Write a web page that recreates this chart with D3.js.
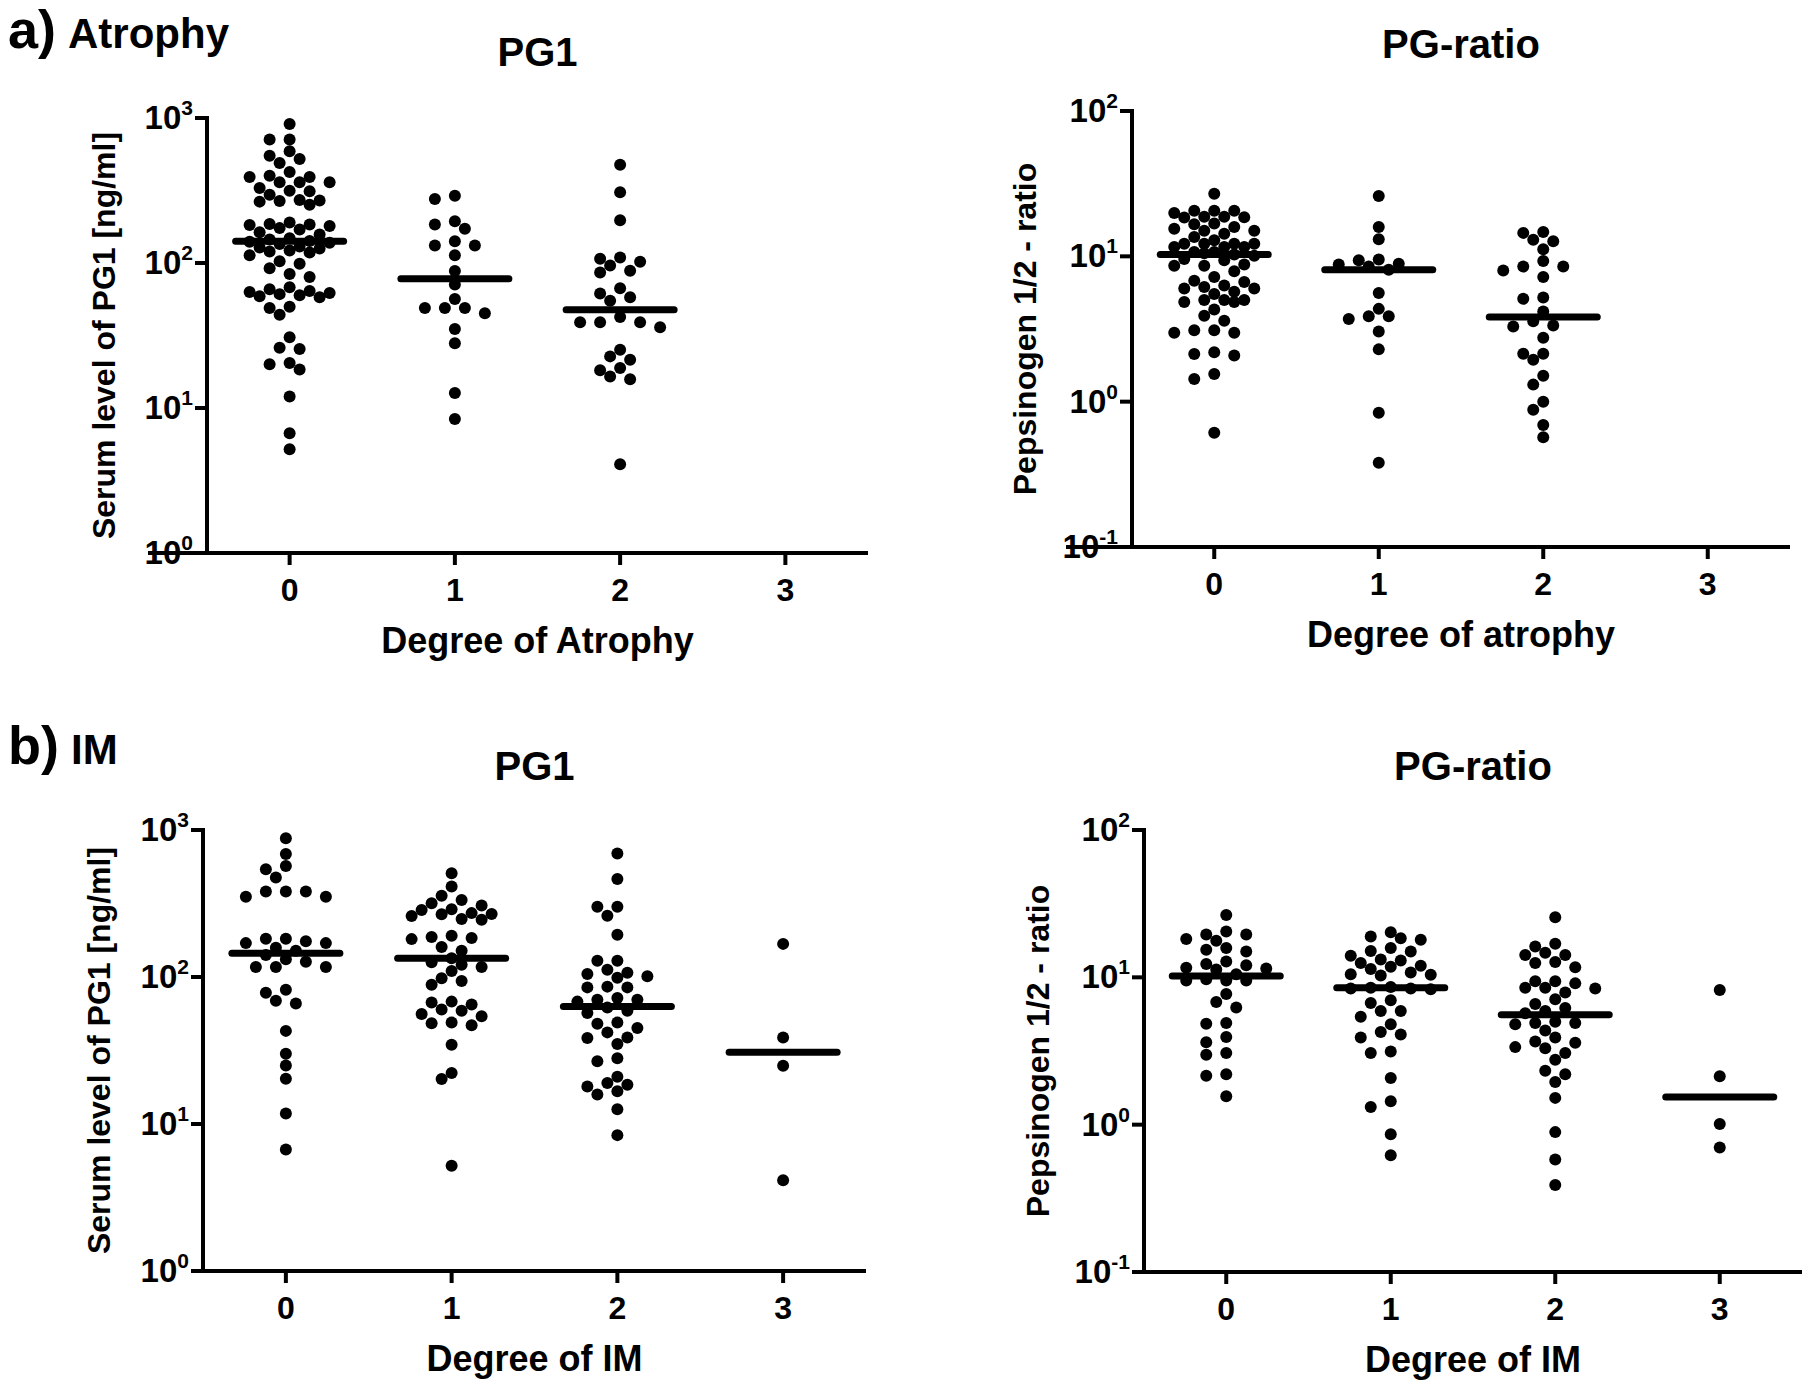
<!DOCTYPE html>
<html><head><meta charset="utf-8">
<script src="https://cdn.jsdelivr.net/npm/d3@7"></script>
<style>
body{margin:0;background:#fff}
svg{display:block}
text{font-family:"Liberation Sans",Arial,sans-serif;font-weight:bold;fill:#000}
</style>
</head><body>
<svg id="chart" width="1818" height="1384"></svg>
<script>
// ---------------- DATA ----------------
const categories = ["0", "1", "2", "3"];
const pg1TickExponents = [0, 1, 2, 3];
const ratioTickExponents = [-1, 0, 1, 2];

// a) Atrophy – PG1 [ng/ml]
const pg1Atrophy0 = [910, 710, 710, 589, 550, 522, 490, 425, 400, 392, 392, 361, 361, 361, 329, 315, 312, 296, 272, 268, 270, 265, 252, 190, 186, 184, 183, 180, 174, 170, 163, 157, 148, 145, 142, 140, 138, 135, 130, 128, 126, 122, 120, 118, 113, 103, 99, 92, 84, 80, 68, 66, 64, 63, 62, 61, 60, 59, 58, 50, 49, 44, 30.7, 26, 25.5, 20.4, 20, 18.4, 12, 6.7, 5.2];
const pg1Atrophy1 = [291, 276, 194, 184, 172, 141, 132, 132, 113, 88, 71, 56.5, 49, 49, 49, 45, 35, 28, 12.7, 8.4];
const pg1Atrophy2 = [476, 307, 197, 109, 107, 102, 96, 88.5, 86, 67, 61.5, 58, 55, 42.5, 39, 39, 39, 36, 25.2, 22.7, 21.5, 18.9, 18.2, 16.5, 15.8, 4.1];
const pg1Atrophy3 = [];
const pg1AtrophyMedians = [141, 78, 47.6, null];

// a) Atrophy – PG ratio
const ratioAtrophy0 = [27, 20.6, 20.6, 20.6, 18.7, 18.7, 19.9, 18.5, 18.6, 16.6, 16.8, 15.9, 15.5, 15, 15, 14.3, 13.6, 12.9, 12.2, 12.2, 12.2, 12.2, 11.6, 11.6, 11.6, 10.7, 10.7, 10.5, 10.3, 10.1, 9.6, 9.4, 8.8, 8.6, 8.6, 7.9, 7.2, 6.8, 6.65, 6.3, 6.15, 6.0, 6.0, 5.7, 5.5, 5.0, 5.0, 5.0, 4.85, 4.85, 4.3, 3.9, 3.6, 3.1, 3.1, 2.98, 2.98, 2.19, 2.13, 2.08, 1.55, 1.43, 0.61];
const ratioAtrophy1 = [26, 15.9, 13.1, 9.5, 9.4, 8.9, 8.8, 8.5, 8.1, 5.6, 4.35, 3.87, 3.87, 3.7, 3.04, 2.29, 0.84, 0.38];
const ratioAtrophy2 = [14.7, 14.5, 13, 12.7, 11.2, 9.3, 8.5, 8.5, 8.0, 7.2, 5.2, 5.1, 4.18, 3.58, 3.34, 3.29, 2.75, 2.14, 2.14, 1.94, 1.51, 1.31, 1.0, 0.88, 0.69, 0.57];
const ratioAtrophy3 = [];
const ratioAtrophyMedians = [10.3, 8.1, 3.82, null];

// b) IM – PG1 [ng/ml]
const pg1IM0 = [878, 687, 569, 540, 475, 381, 381, 381, 351, 351, 182, 182, 175, 170, 170, 158, 151, 141, 132, 127, 117, 117, 117, 82, 78, 69, 66, 43, 30, 25, 20.3, 11.8, 6.7];
const pg1IM1 = [508, 412, 357, 334, 318, 306, 289, 286, 272, 268, 267, 260, 248, 245, 191, 187, 184, 181, 160, 151, 134, 126, 121, 117, 110, 98, 94, 88.5, 68, 67, 65, 60, 59, 56, 54, 49, 48.5, 47, 34.6, 22.2, 20.2, 5.2];
const pg1IM2 = [693, 464, 301, 301, 261, 194, 129, 129, 112, 107, 105, 101, 99, 86, 85, 85, 72, 70, 70, 68, 62, 59, 57, 49, 48, 45, 42, 38.8, 38.4, 35, 28, 26.7, 21, 19, 18.5, 18, 16.7, 15.9, 12.6, 8.4];
const pg1IM3 = [168, 38.8, 24.9, 4.14];
const pg1IMMedians = [145, 134, 63, 30.8];

// b) IM – PG ratio
const ratioIM0 = [26.5, 20.5, 19.5, 19.5, 18.2, 17.7, 15.8, 15.4, 15, 12.8, 12.3, 12.1, 11.6, 11.5, 11.3, 10.5, 9.7, 9.5, 9.5, 9.5, 7.7, 6.8, 6.24, 4.9, 4.84, 3.93, 3.63, 3.06, 2.98, 2.2, 2.15, 1.56];
const ratioIM1 = [20.2, 18.9, 18.4, 18, 15.8, 15.1, 15, 14, 13.2, 13, 12.5, 12, 11.8, 11.4, 10.8, 10.5, 10.4, 10.3, 8.6, 8.5, 8.4, 8.4, 8.3, 7.0, 6.7, 5.9, 5.9, 5.4, 4.8, 4.25, 4.1, 3.9, 3.14, 3.06, 2.07, 1.44, 1.32, 0.86, 0.62];
const ratioIM2 = [25.6, 16.9, 16.2, 14.7, 14.2, 14.2, 12.7, 12.5, 11.7, 9.4, 9.4, 9.1, 8.5, 8.5, 8.4, 7.9, 7.1, 6.6, 6.2, 5.9, 5.7, 5.0, 4.9, 4.9, 4.8, 4.36, 3.9, 3.67, 3.6, 3.36, 3.3, 3.06, 2.76, 2.32, 2.2, 1.95, 1.52, 0.89, 0.58, 0.39];
const ratioIM3 = [8.2, 2.13, 1.01, 0.70];
const ratioIMMedians = [10.2, 8.5, 5.57, 1.54];

// ---------------- DRAWING ----------------
const svg = d3.select("#chart");

const panels = [
  {groups:[pg1Atrophy0,pg1Atrophy1,pg1Atrophy2,pg1Atrophy3], medians:pg1AtrophyMedians,
   x0:207, x1:868, yTop:118, yBot:553, domain:[1,1000], exps:pg1TickExponents, ext:148,
   title:"PG1", titleY:66, xlabel:"Degree of Atrophy", ylabel:"Serum level of PG1 [ng/ml]", ylabX:115},
  {groups:[ratioAtrophy0,ratioAtrophy1,ratioAtrophy2,ratioAtrophy3], medians:ratioAtrophyMedians,
   x0:1132, x1:1790, yTop:111, yBot:547, domain:[0.1,100], exps:ratioTickExponents, ext:1066,
   title:"PG-ratio", titleY:58, xlabel:"Degree of atrophy", ylabel:"Pepsinogen 1/2 - ratio", ylabX:1036},
  {groups:[pg1IM0,pg1IM1,pg1IM2,pg1IM3], medians:pg1IMMedians,
   x0:203, x1:866, yTop:830, yBot:1271, domain:[1,1000], exps:pg1TickExponents, ext:null,
   title:"PG1", titleY:780, xlabel:"Degree of IM", ylabel:"Serum level of PG1 [ng/ml]", ylabX:110},
  {groups:[ratioIM0,ratioIM1,ratioIM2,ratioIM3], medians:ratioIMMedians,
   x0:1144, x1:1802, yTop:830, yBot:1272, domain:[0.1,100], exps:ratioTickExponents, ext:null,
   title:"PG-ratio", titleY:780, xlabel:"Degree of IM", ylabel:"Pepsinogen 1/2 - ratio", ylabX:1049}
];

const R = 6;
const MIN_DIST = 11.6;
const STEP = 10;
const MAX_OFF = 45;

function swarm(vals, y) {
  const pts = vals.map(v => ({v, y: y(v)})).sort((a, b) => a.y - b.y);
  const placed = [];
  const cands = [0];
  for (let m = 1; m * STEP <= MAX_OFF; m++) { cands.push(-m * STEP, m * STEP); }
  for (const p of pts) {
    let best = null, bestD = -1;
    for (const off of cands) {
      let dmin = Infinity;
      for (const q of placed) dmin = Math.min(dmin, Math.hypot(q.off - off, q.y - p.y));
      if (dmin >= MIN_DIST) { best = off; bestD = dmin; break; }
      if (dmin > bestD + 0.01) { bestD = dmin; best = off; }
    }
    p.off = best;
    placed.push(p);
  }
  return placed;
}

panels.forEach(P => {
  const g = svg.append("g");
  const x = d3.scaleLinear().domain([-0.5, 3.5]).range([P.x0, P.x1]);
  const y = d3.scaleLog().domain(P.domain).range([P.yBot, P.yTop]);

  // y axis line + ticks
  g.append("line").attr("x1", P.x0).attr("x2", P.x0).attr("y1", P.yTop - 2).attr("y2", P.yBot + 2)
    .attr("stroke", "#000").attr("stroke-width", 4);
  P.exps.forEach(e => {
    const ty = y(Math.pow(10, e));
    g.append("line").attr("x1", P.x0 - 12).attr("x2", P.x0).attr("y1", ty).attr("y2", ty)
      .attr("stroke", "#000").attr("stroke-width", 4);
    const t = g.append("text").attr("x", P.x0 - 14).attr("y", ty + 11).attr("text-anchor", "end");
    t.append("tspan").attr("font-size", 33).text("10");
    t.append("tspan").attr("font-size", 21).attr("dy", -14).text(String(e));
  });

  // x axis
  const xStart = P.ext != null ? P.ext : P.x0 - 2;
  g.append("line").attr("x1", xStart).attr("x2", P.x1).attr("y1", P.yBot).attr("y2", P.yBot)
    .attr("stroke", "#000").attr("stroke-width", 4);
  categories.forEach((c, i) => {
    const cx = x(i);
    g.append("line").attr("x1", cx).attr("x2", cx).attr("y1", P.yBot).attr("y2", P.yBot + 12)
      .attr("stroke", "#000").attr("stroke-width", 4);
    g.append("text").attr("x", cx).attr("y", P.yBot + 48).attr("text-anchor", "middle")
      .attr("font-size", 32).text(c);
  });

  // titles and labels
  const mid = (P.x0 + P.x1) / 2;
  g.append("text").attr("x", mid).attr("y", P.titleY).attr("text-anchor", "middle")
    .attr("font-size", 40).text(P.title);
  g.append("text").attr("x", mid).attr("y", P.yBot + 100).attr("text-anchor", "middle")
    .attr("font-size", 36).text(P.xlabel);
  g.append("text").attr("transform", `translate(${P.ylabX},${(P.yTop + P.yBot) / 2}) rotate(-90)`)
    .attr("text-anchor", "middle").attr("font-size", 32).text(P.ylabel);

  // points
  P.groups.forEach((vals, i) => {
    const cx = x(i);
    const pts = swarm(vals, y);
    g.selectAll(null).data(pts).enter().append("circle")
      .attr("cx", d => cx + d.off).attr("cy", d => d.y).attr("r", R).attr("fill", "#000");
    const m = P.medians[i];
    if (m != null) {
      g.append("line").attr("x1", cx - 54).attr("x2", cx + 54).attr("y1", y(m)).attr("y2", y(m))
        .attr("stroke", "#000").attr("stroke-width", 7).attr("stroke-linecap", "round");
    }
  });
});

// panel labels
const pa = svg.append("text").attr("x", 8).attr("y", 48);
pa.append("tspan").attr("font-size", 54).text("a)");
pa.append("tspan").attr("font-size", 42).attr("dx", 12).text("Atrophy");
const pb = svg.append("text").attr("x", 8).attr("y", 764);
pb.append("tspan").attr("font-size", 54).text("b)");
pb.append("tspan").attr("font-size", 42).attr("dx", 12).text("IM");
</script>
</body></html>
